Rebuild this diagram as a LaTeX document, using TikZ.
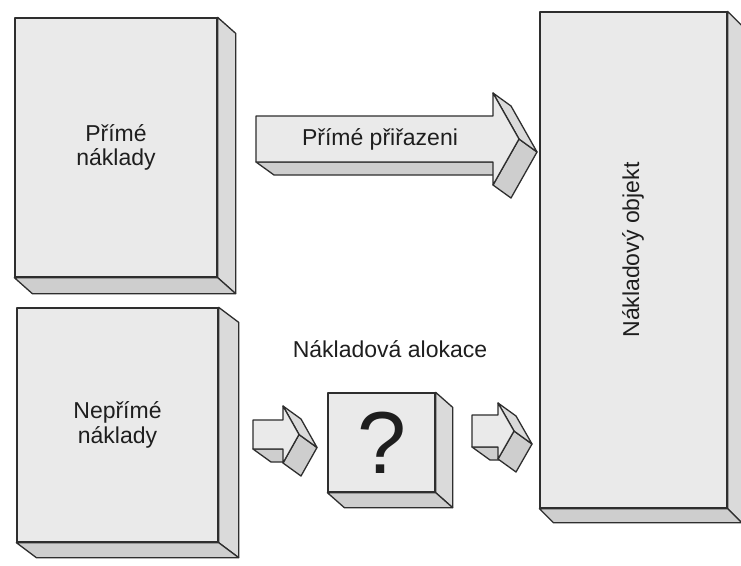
\documentclass[tikz,border=0pt]{standalone}
\usepackage{fontspec}
\setmainfont{Liberation Sans}
\usetikzlibrary{calc}

\definecolor{edge}{HTML}{2E2E2E}
\definecolor{facefront}{HTML}{EAEAEA}
\definecolor{faceside}{HTML}{DADADA}
\definecolor{facebottom}{HTML}{CECECE}
\definecolor{ink}{HTML}{1E1E1E}

\tikzset{
  outline/.style={draw=edge, line width=1.3pt, line join=round},
  frontface/.style={outline, fill=facefront, rectangle, inner sep=0pt,
    align=center, text=ink, font=\fontsize{23}{24.5}\selectfont},
  sideface/.style={outline, fill=faceside},
  baseface/.style={outline, fill=facebottom},
  caption/.style={text=ink, inner sep=0pt, font=\fontsize{23}{24.5}\selectfont},
}

% right and bottom faces of a slab whose front face is node #1, depth (#2,#3)
\newcommand\slabsides[3]{%
  \draw[sideface] (#1.north east) -- ++(#2,#3)
    -- ([shift={(#2,#3)}]#1.south east) -- (#1.south east) -- cycle;
  \draw[baseface] (#1.south west) -- (#1.south east)
    -- ([shift={(#2,#3)}]#1.south east) -- ([shift={(#2,#3)}]#1.south west) -- cycle;
}

% extruded block arrow: name, tail x, shaft top, shaft bottom,
% head base x, head top, head bottom, tip x
\newcommand\adx{18}
\newcommand\ady{13}
\newcommand\solidarrow[8]{%
  \pgfmathsetmacro\ym{(#3+#4)/2}%
  \coordinate (#1-tail) at (#2,\ym);
  \coordinate (#1-tip) at (#8,\ym);
  \draw[baseface] (#2,#4) -- (#5,#4) -- ++(\adx,\ady)
    -- ([shift={(\adx,\ady)}]#2,#4) -- cycle;
  \draw[baseface] (#1-tip) -- (#5,#7) -- ++(\adx,\ady)
    -- ([shift={(\adx,\ady)}]#1-tip) -- cycle;
  \draw[sideface] (#5,#6) -- (#1-tip) -- ++(\adx,\ady)
    -- ([shift={(\adx,\ady)}]#5,#6) -- cycle;
  \draw[outline, fill=facefront] (#2,#3) -- (#5,#3) -- (#5,#6) -- (#1-tip)
    -- (#5,#7) -- (#5,#4) -- (#2,#4) -- cycle;
}

\begin{document}
\begin{tikzpicture}[x=1pt, y=-1pt]
  \fill[white] (0,0) rectangle (741,565);
  \useasboundingbox (0,0) rectangle (741,565);

  % cost sources
  \node[frontface, minimum width=202pt, minimum height=259pt] (direct)
    at (116,147.5) {Přímé\\náklady};
  \slabsides{direct}{18}{16}

  \node[frontface, minimum width=201pt, minimum height=234pt] (indirect)
    at (117.5,425) {Nepřímé\\náklady};
  \slabsides{indirect}{20}{15}

  % cost object
  \node[frontface, minimum width=187pt, minimum height=496pt] (object)
    at (633.5,260) {};
  \slabsides{object}{14}{14}
  \node[caption, rotate=90] (objlabel) at (633,250) {Nákladový objekt};

  % direct assignment arrow
  \solidarrow{assign}{256}{116}{162}{493}{93}{185}{519}
  \node[caption] (assignlabel) at (380,139) {Přímé přiřazeni};

  % allocation step
  \node[caption, anchor=base] (alloclabel) at (390,357) {Nákladová alokace};
  \node[frontface, minimum width=107pt, minimum height=99pt] (unknown)
    at (381.5,442.5) {};
  \slabsides{unknown}{17}{15}
  \node[text=ink, inner sep=0pt, font=\fontsize{88}{88}\selectfont] (qmark)
    at (unknown.center) {?};

  \solidarrow{inarrow}{253}{420}{449}{283}{406}{463}{299}
  \solidarrow{outarrow}{472}{415}{447}{498}{403}{459}{514}
\end{tikzpicture}
\end{document}
